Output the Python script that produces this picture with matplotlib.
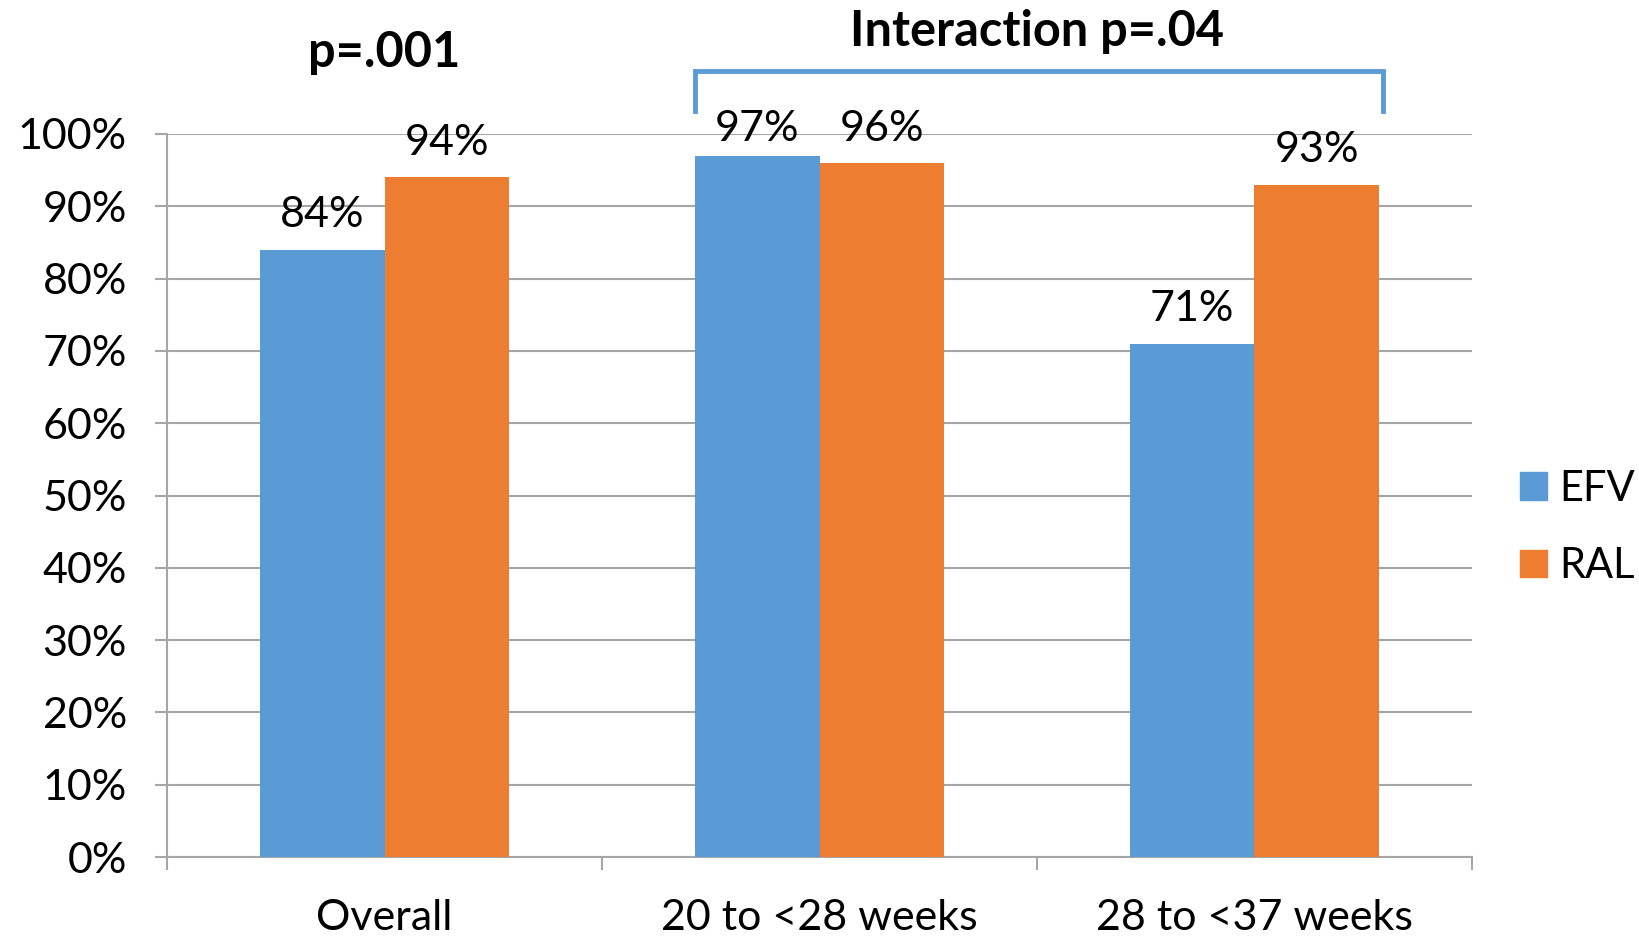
import matplotlib
matplotlib.use("Agg")
import matplotlib.pyplot as plt
import numpy as np
from matplotlib.patches import Patch

plt.rcParams['font.family'] = ['Lato', 'DejaVu Sans']

# data
groups = ['Overall', '20 to <28 weeks', '28 to <37 weeks']
efv = [84, 97, 71]
ral = [94, 96, 93]
blue = '#5B9BD5'
orange = '#ED7D31'
grid_c = '#A6A6A6'

fig = plt.figure(figsize=(16.39, 9.39), dpi=100)
ax = fig.add_axes([0.102, 0.0873, 0.796, 0.7700])

x = np.arange(len(groups))
w = 0.286
b1 = ax.bar(x - w / 2, efv, w, color=blue, zorder=3, label='EFV')
b2 = ax.bar(x + w / 2, ral, w, color=orange, zorder=3, label='RAL')

# value labels; the tallest ones are held down under the bracket
for bars, vals in ((b1, efv), (b2, ral)):
    for r, v in zip(bars, vals):
        ax.annotate(f'{v}%', (r.get_x() + r.get_width() / 2, min(v, 96)),
                    xytext=(0, 16), textcoords='offset points',
                    ha='center', va='baseline', fontsize=31, zorder=5)

ax.set_xlim(-0.5, 2.5)
ax.set_ylim(0, 100)
ax.set_yticks(range(0, 101, 10))
ax.set_yticklabels([f'{t}%' for t in range(0, 101, 10)])
ax.yaxis.grid(True, color=grid_c, lw=1.5, zorder=0)

# category labels centred, tick marks between categories
ax.set_xticks(x)
ax.set_xticklabels(groups)
ax.set_xticks([-0.5, 0.5, 1.5, 2.5], minor=True)
ax.tick_params(axis='x', which='major', length=0, pad=30, labelsize=31)
ax.tick_params(axis='x', which='minor', length=9, width=1.5, color=grid_c)
ax.tick_params(axis='y', length=9, width=1.5, color=grid_c, pad=20, labelsize=31)

for s in ('top', 'right'):
    ax.spines[s].set_visible(False)
for s in ('left', 'bottom'):
    ax.spines[s].set_color(grid_c)
    ax.spines[s].set_linewidth(1.5)

# bracket over the two gestational-age groups
bx0 = 1 - w
bx1 = 2 + w + 0.01
ax.plot([bx0, bx0, bx1, bx1], [103.2, 108.7, 108.7, 103.2], color=blue,
        lw=3.5, clip_on=False, solid_joinstyle='miter', zorder=4)
ax.text(1.5, 114.2, 'Interaction p=.04', ha='center', va='center',
        fontsize=35, fontweight='bold', clip_on=False)
ax.text(0, 111.3, 'p=.001', ha='center', va='center',
        fontsize=35, fontweight='bold', clip_on=False)

handles = [Patch(color=blue, label='EFV'), Patch(color=orange, label='RAL')]
ax.legend(handles=handles, loc='center left', bbox_to_anchor=(1.0145, 0.456),
          frameon=False, fontsize=30, handlelength=0.64, handleheight=0.64,
          handletextpad=0.3, labelspacing=0.95, borderpad=0.2)

fig.savefig('out.png', dpi=100)
